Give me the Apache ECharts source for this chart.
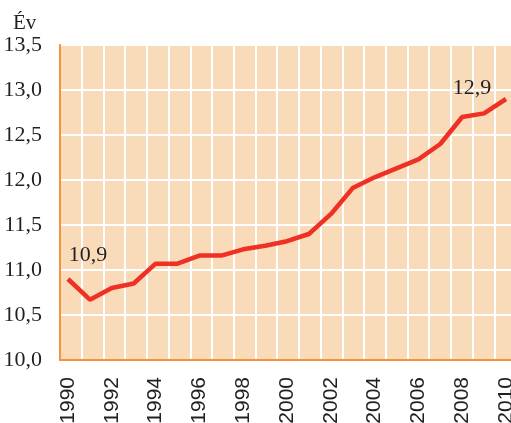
<!DOCTYPE html>
<html>
<head>
<meta charset="utf-8">
<script src="https://cdn.jsdelivr.net/npm/echarts@6/dist/echarts.min.js"></script>
<style>html,body{margin:0;padding:0;background:#fff;}#c{width:511px;height:423px;}</style>
</head>
<body>
<div id="c"></div>
<script>
var years = [1990,1991,1992,1993,1994,1995,1996,1997,1998,1999,2000,2001,2002,2003,2004,2005,2006,2007,2008,2009,2010];
var values = [10.9,10.67,10.8,10.85,11.07,11.07,11.16,11.16,11.23,11.27,11.32,11.4,11.62,11.91,12.03,12.13,12.23,12.4,12.7,12.74,12.9];
var yearLabels = [1990,1992,1994,1996,1998,2000,2002,2004,2006,2008,2010];
var yTicks = [10,10.5,11,11.5,12,12.5,13,13.5];
var labelled = {1990: '10,9', 2010: '12,9'};

var serif = '"Liberation Serif", "DejaVu Serif", serif';
var chart = echarts.init(document.getElementById('c'));
var data = years.map(function (y, i) {
  var item = { value: [y, values[i]] };
  if (labelled[y]) {
    item.label = {
      show: true,
      formatter: labelled[y],
      position: 'top',
      offset: y === 1990 ? [20, -8] : [-34, 5],
      fontFamily: serif,
      fontSize: 22,
      color: '#231f20'
    };
  }
  return item;
});
chart.setOption({
  animation: false,
  grid: {
    left: 60, right: -5, top: 45, bottom: 63,
    outerBoundsMode: 'none',
    containLabel: false,
    show: true,
    backgroundColor: '#F9DBBA',
    borderColor: '#F5923A',
    borderWidth: 2
  },
  graphic: [{
    type: 'text', left: 13, top: 13,
    style: { text: 'Év', font: '21px ' + serif, fill: '#231f20' }
  }],
  xAxis: [{
    type: 'value',
    min: 1989.635, max: 2010.457,
    axisLine: { show: true, lineStyle: { color: '#F5923A', width: 2 } },
    axisTick: { show: false },
    splitLine: { show: false },
    axisLabel: {
      customValues: yearLabels,
      rotate: 90,
      margin: 17,
      fontFamily: '"Liberation Sans", Arial, sans-serif',
      fontSize: 21,
      color: '#231f20',
      formatter: function (v) { return String(Math.round(v)); }
    }
  }, {
    type: 'value',
    min: 0, max: 21, interval: 1,
    position: 'top',
    axisLine: { show: false },
    axisTick: { show: false },
    axisLabel: { show: false },
    splitLine: { show: true, lineStyle: { color: '#ffffff', width: 2 } }
  }],
  yAxis: {
    type: 'value',
    min: 10, max: 13.5, interval: 0.5,
    axisLine: { show: true, lineStyle: { color: '#F5923A', width: 2 } },
    axisTick: { show: false },
    splitLine: { show: true, lineStyle: { color: '#ffffff', width: 2 } },
    axisLabel: {
      margin: 18,
      fontFamily: serif,
      fontSize: 22,
      color: '#231f20',
      formatter: function (v) { return v.toFixed(1).replace('.', ','); }
    }
  },
  series: [{
    type: 'line',
    xAxisIndex: 0,
    data: data,
    symbol: 'circle',
    symbolSize: 0,
    showSymbol: true,
    itemStyle: { color: '#EE3124' },
    lineStyle: { color: '#EE3124', width: 4.5 },
    z: 5
  }]
});
</script>
</body>
</html>
